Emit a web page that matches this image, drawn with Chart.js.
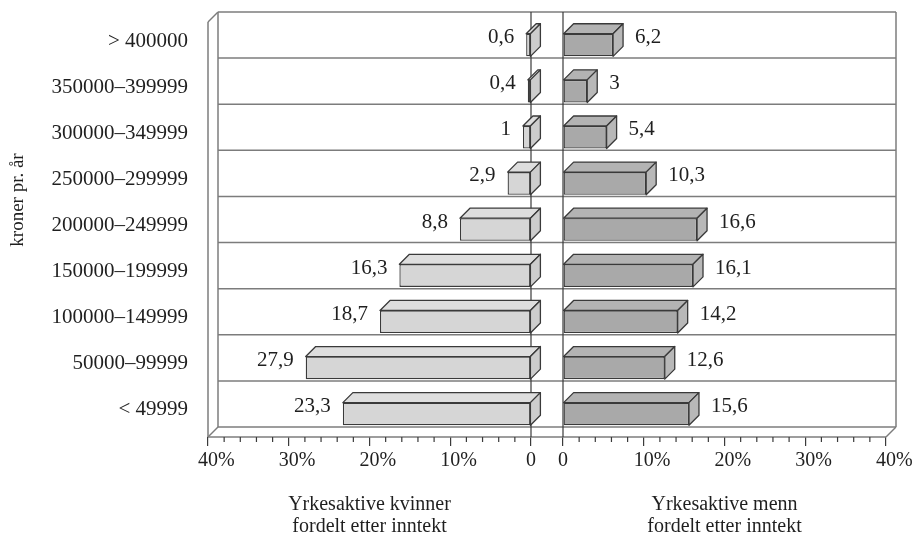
<!DOCTYPE html>
<html>
<head>
<meta charset="utf-8">
<script src="https://cdn.jsdelivr.net/npm/chart.js@4/dist/chart.umd.min.js"></script>
<style>
  html, body { margin: 0; padding: 0; background: #ffffff; }
  canvas { display: block; }
</style>
</head>
<body>
<canvas id="chart" width="918" height="542"></canvas>
<script>
// Income bands, top to bottom
const incomeBands = [
  '> 400000', '350000–399999', '300000–349999', '250000–299999',
  '200000–249999', '150000–199999', '100000–149999', '50000–99999', '< 49999'
];
// Share of employed women / men in each band (%)
const womenShare = [0.6, 0.4, 1, 2.9, 8.8, 16.3, 18.7, 27.9, 23.3];
const menShare   = [6.2, 3, 5.4, 10.3, 16.6, 16.1, 14.2, 12.6, 15.6];
// Labelled tick values and their texts
const majorTicks = [0, 10, 20, 30, 40];
const tickLabels = ['0', '10%', '20%', '30%', '40%'];
const womenTitle = ['Yrkesaktive kvinner', 'fordelt etter inntekt'];
const menTitle   = ['Yrkesaktive menn', 'fordelt etter inntekt'];
const bandTitle  = 'kroner pr. år';

// Oblique depth of the 3D boxes and the gap between the two panels
const DX = 10, DY = -10, GAP = 32;
const FRAME = '#7c7c7c', EDGE = '#3a3a3a', INK = '#1f1f1f';
const FONT = 'Liberation Serif';

Chart.defaults.font.family = FONT;
Chart.defaults.color = INK;

function line(ctx, x1, y1, x2, y2) {
  ctx.beginPath(); ctx.moveTo(x1, y1); ctx.lineTo(x2, y2); ctx.stroke();
}
function face(ctx, pts, fill) {
  ctx.beginPath();
  ctx.moveTo(pts[0][0], pts[0][1]);
  for (let i = 1; i < pts.length; i++) ctx.lineTo(pts[i][0], pts[i][1]);
  ctx.closePath();
  ctx.fillStyle = fill; ctx.fill();
  ctx.stroke();
}
const fmt = v => String(v).replace('.', ',');
function noOverhang(s) {
  s.paddingLeft = 0; s.paddingRight = 0; s.paddingTop = 0; s.paddingBottom = 0;
}

// Put the two percentage axes side by side under the plot, with a gap between
const splitAxes = {
  id: 'splitAxes',
  afterLayout(chart) {
    const a = chart.chartArea;
    const w = (a.right - a.left - GAP) / 2;
    const L = chart.scales.xL, R = chart.scales.xR;
    L.left = a.left; L.right = a.left + w; L.width = w;
    R.left = a.right - w; R.right = a.right; R.width = w;
    L.configure(); R.configure();
  }
};

// Back wall, left wall, floor, 3D faces, value labels, minor ticks, band title
const box3d = {
  id: 'box3d',
  beforeDatasetsDraw(chart) {
    const {ctx, chartArea: a, scales: {y, xL, xR}} = chart;
    const n = incomeBands.length;
    const rowH = (a.bottom - a.top) / n;
    ctx.save();
    ctx.strokeStyle = FRAME; ctx.lineWidth = 1.5;
    for (let i = 0; i <= n; i++) {
      const yy = y.getPixelForValue(0) - rowH / 2 + i * rowH + DY;
      line(ctx, a.left + DX, yy, a.right + DX, yy);
    }
    line(ctx, a.right + DX, a.top + DY, a.right + DX, a.bottom + DY);
    line(ctx, a.left, a.top, a.left, a.bottom);
    line(ctx, a.left + DX, a.top + DY, a.left + DX, a.bottom + DY);
    line(ctx, a.left, a.top, a.left + DX, a.top + DY);
    line(ctx, a.left, a.bottom, a.left + DX, a.bottom + DY);
    line(ctx, a.right, a.bottom, a.right + DX, a.bottom + DY);
    line(ctx, a.left, a.bottom, a.right, a.bottom);
    ctx.strokeStyle = EDGE; ctx.lineWidth = 1.2;
    for (const s of [xL, xR]) {
      const x = s.getPixelForValue(0);
      line(ctx, x, a.top + DY, x, a.bottom);
    }
    ctx.restore();
  },
  afterDatasetsDraw(chart) {
    const {ctx} = chart;
    ctx.save();
    ctx.strokeStyle = EDGE; ctx.lineWidth = 1.3; ctx.lineJoin = 'round';
    chart.data.datasets.forEach((ds, di) => {
      const meta = chart.getDatasetMeta(di);
      meta.data.forEach((bar, i) => {
        const l = Math.min(bar.x, bar.base), r = Math.max(bar.x, bar.base);
        const t = bar.y - bar.height / 2, b = bar.y + bar.height / 2;
        face(ctx, [[l, t], [l + DX, t + DY], [r + DX, t + DY], [r, t]], ds.topColor);
        face(ctx, [[r, t], [r + DX, t + DY], [r + DX, b + DY], [r, b]], ds.sideColor);
        ctx.fillStyle = INK;
        ctx.font = '21px "' + FONT + '"';
        ctx.textBaseline = 'middle';
        const txt = fmt(ds.data[i]);
        if (ds.xAxisID === 'xL') {
          ctx.textAlign = 'right';
          ctx.fillText(txt, l - 12, bar.y - 7.5);
        } else {
          ctx.textAlign = 'left';
          ctx.fillText(txt, r + DX + 12, bar.y - 7.5);
        }
      });
    });
    ctx.restore();
  },
  afterDraw(chart) {
    const {ctx, chartArea: a, scales: {xL, xR}} = chart;
    ctx.save();
    ctx.strokeStyle = EDGE; ctx.lineWidth = 1.2;
    for (const s of [xL, xR]) {
      for (let v = 2; v < 40; v += 2) {
        if (majorTicks.includes(v)) continue;
        const x = s.getPixelForValue(v);
        line(ctx, x, a.bottom, x, a.bottom + 5);
      }
    }
    ctx.translate(18.5, 200);
    ctx.rotate(-Math.PI / 2);
    ctx.fillStyle = INK;
    ctx.font = '19px "' + FONT + '"';
    ctx.textAlign = 'center';
    ctx.textBaseline = 'middle';
    ctx.fillText(bandTitle, 0, 0);
    ctx.restore();
  }
};

function xAxis(reverse, title) {
  return {
    type: 'linear',
    position: 'bottom',
    stack: 'panels',
    reverse: reverse,
    min: 0,
    max: 40,
    grid: {
      drawOnChartArea: false,
      drawTicks: true,
      tickLength: 9,
      lineWidth: 1.2,
      tickColor: c => majorTicks.includes(c.tick.value) ? EDGE : 'rgba(0,0,0,0)'
    },
    border: { display: false },
    ticks: {
      stepSize: 2,
      autoSkip: false,
      maxRotation: 0,
      align: 'start',
      labelOffset: -10,
      padding: 3,
      color: INK,
      font: { family: FONT, size: 20 },
      // the numeral of each label sits centred on its tick mark
      callback: v => {
        const i = majorTicks.indexOf(v);
        if (i < 0) return '';
        return v === 0 ? '\u2008' + tickLabels[i] : tickLabels[i];
      }
    },
    title: {
      display: true,
      text: title,
      color: INK,
      font: { family: FONT, size: 20, lineHeight: 1.1 },
      padding: { top: 0, bottom: 4 }
    },
    afterFit(s) { s.height = 105; noOverhang(s); }
  };
}

new Chart(document.getElementById('chart'), {
  type: 'bar',
  data: {
    labels: incomeBands,
    datasets: [
      {
        label: 'Kvinner',
        data: womenShare,
        xAxisID: 'xL',
        backgroundColor: '#d6d6d6',
        topColor: '#dedede',
        sideColor: '#cdcdcd',
        borderColor: EDGE,
        borderWidth: 1.3,
        borderSkipped: false,
        grouped: false,
        categoryPercentage: 1,
        barPercentage: 0.49
      },
      {
        label: 'Menn',
        data: menShare,
        xAxisID: 'xR',
        backgroundColor: '#a9a9a9',
        topColor: '#b3b3b3',
        sideColor: '#b8b8b8',
        borderColor: EDGE,
        borderWidth: 1.3,
        borderSkipped: false,
        grouped: false,
        categoryPercentage: 1,
        barPercentage: 0.49
      }
    ]
  },
  options: {
    indexAxis: 'y',
    responsive: false,
    animation: false,
    devicePixelRatio: 1,
    layout: { padding: { left: 0, right: 32, top: 22, bottom: 0 } },
    plugins: { legend: { display: false }, tooltip: { enabled: false } },
    scales: {
      y: {
        type: 'category',
        position: 'left',
        grid: { display: false, drawTicks: false },
        border: { display: false },
        ticks: {
          autoSkip: false,
          padding: 20,
          labelOffset: -4,
          color: INK,
          font: { family: FONT, size: 21 }
        },
        afterFit(s) { s.width = 208; noOverhang(s); }
      },
      xL: xAxis(true, womenTitle),
      xR: xAxis(false, menTitle)
    }
  },
  plugins: [splitAxes, box3d]
});
</script>
</body>
</html>
